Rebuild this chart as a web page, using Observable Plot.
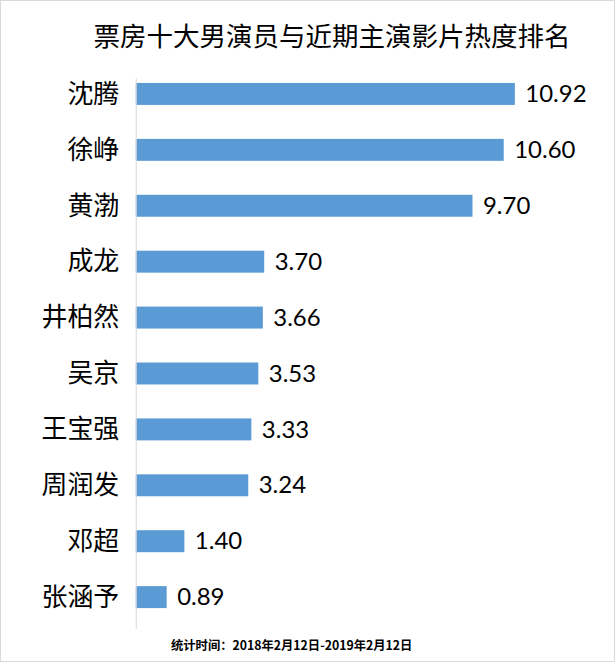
<!DOCTYPE html>
<html><head><meta charset="utf-8">
<script src="https://cdn.jsdelivr.net/npm/d3@7"></script>
<script src="https://cdn.jsdelivr.net/npm/@observablehq/plot@0.6"></script>
<style>
html,body{margin:0;padding:0;background:#fff;}
#wrap{position:relative;width:615px;height:662px;box-sizing:border-box;border:1px solid #d9d9d9;overflow:hidden;}
#title{position:absolute;left:0;width:662px;top:16px;text-align:center;font-family:"Noto Sans CJK SC";font-size:26.5px;color:#000;line-height:36px;}
#chart{position:absolute;left:-1px;top:59px;}
#foot{position:absolute;left:170px;top:635px;font-family:"Noto Sans CJK SC";font-weight:bold;font-size:12.3px;color:#000;line-height:18px;white-space:nowrap;}
</style></head>
<body>
<div id="wrap">
<div id="title">票房十大男演员与近期主演影片热度排名</div>
<div id="chart"></div>
<div id="foot">统计时间：2018年2月12日-2019年2月12日</div>
</div>
<script>
const names = ["沈腾","徐峥","黄渤","成龙","井柏然","吴京","王宝强","周润发","邓超","张涵予"];
const heat = [10.92,10.60,9.70,3.70,3.66,3.53,3.33,3.24,1.40,0.89];
const labels = ["10.92","10.60","9.70","3.70","3.66","3.53","3.33","3.24","1.40","0.89"];
const data = names.map((n,i)=>({name:n, value:heat[i], label:labels[i]}));

const chart = Plot.plot({
  width: 615,
  height: 602,
  marginTop: 18,
  marginBottom: 32,
  marginLeft: 136,
  marginRight: 27,
  x: {domain:[0,13], axis:null},
  y: {domain:names, paddingInner:0.6, paddingOuter:0.194, align:0.183, label:null},
  style: {background:"transparent"},
  marks: [
    Plot.barX(data, {x:"value", y:"name", fill:"#5b9bd5"}),
    Plot.ruleX([0], {stroke:"#d9d9d9", strokeWidth:1}),
    Plot.text(data, {x:"value", y:"name", text:"label", textAnchor:"start", dx:10, fontSize:24, fontFamily:"Lato", fill:"#000"}),
    Plot.axisY({tickSize:0, tickPadding:17, fontSize:26, fontFamily:"Noto Sans CJK SC", label:null, fill:"#000"})
  ]
});
document.getElementById("chart").appendChild(chart);
</script>
</body></html>
